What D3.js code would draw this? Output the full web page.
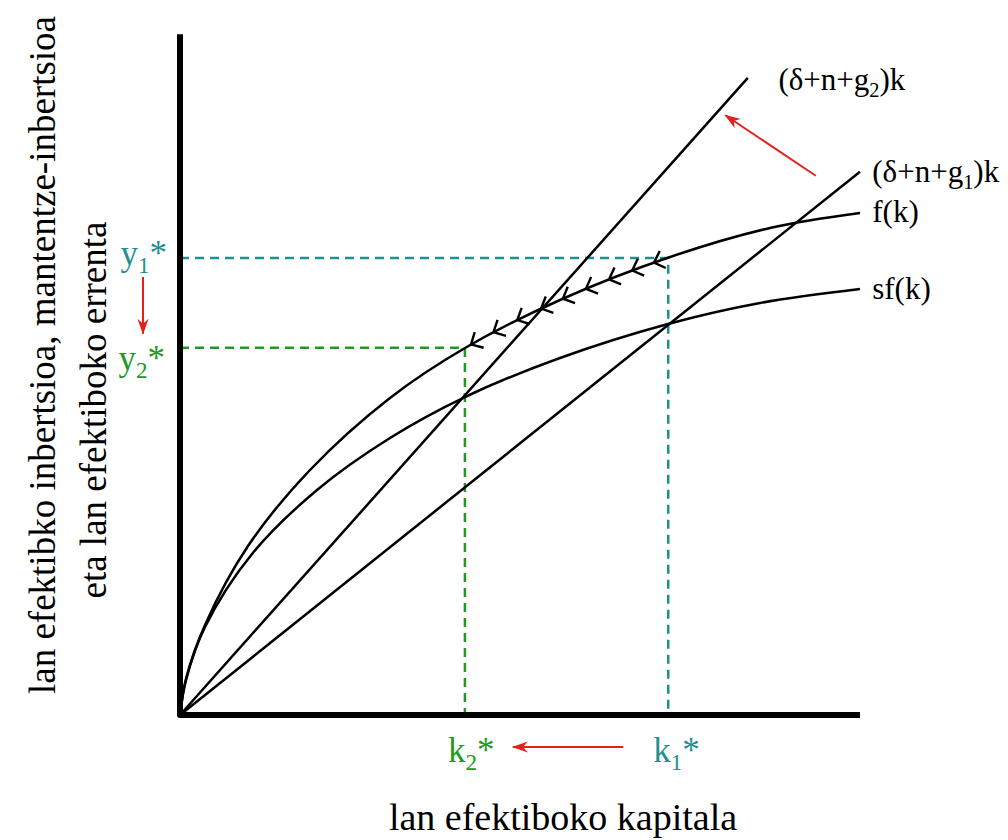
<!DOCTYPE html>
<html>
<head>
<meta charset="utf-8">
<script src="https://cdn.jsdelivr.net/npm/d3@7/dist/d3.min.js"></script>
<style>
  body { margin: 0; background: #fff; }
  text { font-family: "Liberation Serif", "DejaVu Serif", serif; }
</style>
</head>
<body>
<div id="chart"></div>
<script>
// curves, k and y in 0..100 units
const fK  = [0, 0.9, 3.68, 10.0, 19.12, 30.88, 41.91, 55.88, 72.06, 86.76, 100];
const fY  = [0, 5.4, 13.24, 24.85, 36.03, 46.62, 53.97, 61.03, 67.35, 71.62, 73.82];
const sfK = [0, 0.9, 3.68, 10.59, 20.15, 30.88, 41.91, 55.88, 71.76, 85.29, 100];
const sfY = [0, 5.2, 12.94, 23.68, 33.09, 40.74, 46.76, 52.5, 57.5, 60.59, 62.65];

// break-even lines (start and end points)
const lineG2 = [[0, 0], [83.5, 93.7]];
const lineG1 = [[0, 0], [100, 79.9]];

// steady states
const k1 = 71.8, y1 = 67.2;
const k2 = 41.9, y2 = 54.0;

// chevrons on f(k), moving back from k1 to k2
const chevronK = [42.8, 46.1, 49.6, 53.1, 56.3, 59.7, 63.1, 66.5, 69.7];

const curveLabels = [
  {name: "g2", parts: [["(δ+n+g"], ["2", 1], [")k"]], k: 88.0, y: 91.9},
  {name: "g1", parts: [["(δ+n+g"], ["1", 1], [")k"]], k: 101.8, y: 78.4},
  {name: "f",  parts: [["f(k)"]], k: 101.8, y: 72.5},
  {name: "sf", parts: [["sf(k)"]], k: 101.8, y: 61.2}
];

const teal = "#1f9090", green = "#229a22", red = "#e3211c";

const width = 1008, height = 840;
const svg = d3.select("#chart").append("svg")
    .attr("width", width)
    .attr("height", height);

const x = d3.scaleLinear().domain([0, 100]).range([180, 860]);
const y = d3.scaleLinear().domain([0, 100]).range([715, 35]);

svg.append("defs").append("marker")
    .attr("id", "redHead")
    .attr("markerUnits", "userSpaceOnUse")
    .attr("viewBox", "-16 -7 18 14")
    .attr("markerWidth", 18)
    .attr("markerHeight", 14)
    .attr("refX", 0)
    .attr("refY", 0)
    .attr("orient", "auto")
  .append("path")
    .attr("d", "M1,0 L-15,-5.5 L-10,0 L-15,5.5 Z")
    .attr("fill", red);

function addText(g, parts, px, py, opts) {
    let t = g.append("text")
        .attr("x", px)
        .attr("y", py)
        .attr("font-size", opts.size)
        .attr("fill", opts.color || "#000")
        .attr("text-anchor", opts.anchor || "start");
    let down = false;
    parts.forEach(p => {
        let s = t.append("tspan").text(p[0]);
        if (p[1]) {
            s.attr("font-size", opts.size * 0.66).attr("dy", opts.size * 0.22);
            down = true;
        } else if (down) {
            s.attr("dy", -opts.size * 0.22);
            down = false;
        }
    });
    return t;
}

// dashed guides
const dash = "9,6";
svg.append("path")
    .attr("d", d3.line()([[x(0), y(y1)], [x(k1), y(y1)], [x(k1), y(0)]]))
    .attr("fill", "none").attr("stroke", teal).attr("stroke-width", 2.5).attr("stroke-dasharray", dash);
svg.append("path")
    .attr("d", d3.line()([[x(0), y(y2)], [x(k2), y(y2)], [x(k2), y(0)]]))
    .attr("fill", "none").attr("stroke", green).attr("stroke-width", 2.5).attr("stroke-dasharray", dash);

// curves
const curve = d3.line().x(d => x(d[0])).y(d => y(d[1])).curve(d3.curveCatmullRom.alpha(0.5));
const fPath = svg.append("path")
    .attr("d", curve(d3.zip(fK, fY)))
    .attr("fill", "none").attr("stroke", "#000").attr("stroke-width", 2.5);
svg.append("path")
    .attr("d", curve(d3.zip(sfK, sfY)))
    .attr("fill", "none").attr("stroke", "#000").attr("stroke-width", 2.5);

const straight = d3.line().x(d => x(d[0])).y(d => y(d[1]));
[lineG2, lineG1].forEach(l => {
    svg.append("path")
        .attr("d", straight(l))
        .attr("fill", "none").attr("stroke", "#000").attr("stroke-width", 2.5);
});

// chevrons: find point on f path for each k
const node = fPath.node();
const total = node.getTotalLength();
function pointAtX(px) {
    let lo = 0, hi = total;
    for (let i = 0; i < 40; i++) {
        let mid = (lo + hi) / 2;
        if (node.getPointAtLength(mid).x < px) lo = mid; else hi = mid;
    }
    return (lo + hi) / 2;
}
chevronK.forEach(k => {
    let len = pointAtX(x(k));
    let p = node.getPointAtLength(len);
    let q = node.getPointAtLength(Math.min(total, len + 4));
    let a = Math.atan2(q.y - p.y, q.x - p.x);
    let arm = 13, spread = 44 * Math.PI / 180;
    let p1 = [p.x + arm * Math.cos(a - spread), p.y + arm * Math.sin(a - spread)];
    let p2 = [p.x + arm * Math.cos(a + spread), p.y + arm * Math.sin(a + spread)];
    svg.append("path")
        .attr("d", d3.line()([p1, [p.x, p.y], p2]))
        .attr("fill", "none").attr("stroke", "#000").attr("stroke-width", 2.4);
});

// axes
svg.append("path")
    .attr("d", d3.line()([[x(0), y(100.1)], [x(0), y(0)], [x(100), y(0)]]))
    .attr("fill", "none").attr("stroke", "#000").attr("stroke-width", 6)
    .attr("stroke-linejoin", "round");

// red arrows
function arrow(a, b) {
    svg.append("line")
        .attr("x1", a[0]).attr("y1", a[1]).attr("x2", b[0]).attr("y2", b[1])
        .attr("stroke", red).attr("stroke-width", 2)
        .attr("marker-end", "url(#redHead)");
}
arrow([x(93.5), y(79.3)], [x(80.2), y(88.2)]);
arrow([143, y(y1) + 19], [143, y(y2) - 14]);
arrow([x(k1) - 45, 747], [x(k2) + 48, 747]);

// curve labels
curveLabels.forEach(c => addText(svg, c.parts, x(c.k), y(c.y), {size: 31}));

// steady-state labels
addText(svg, [["y"], ["1", 1], ["*"]], 167, 265, {size: 35, color: teal, anchor: "end"});
addText(svg, [["y"], ["2", 1], ["*"]], 165, 370, {size: 35, color: green, anchor: "end"});
addText(svg, [["k"], ["2", 1], ["*"]], x(k2) - 17, 762, {size: 35, color: green});
addText(svg, [["k"], ["1", 1], ["*"]], x(k1) - 15, 762, {size: 35, color: teal});

// axis titles
svg.append("text")
    .attr("x", 563).attr("y", 830)
    .attr("text-anchor", "middle")
    .attr("font-size", 38)
    .text("lan efektiboko kapitala");

svg.append("text")
    .attr("transform", "translate(55,355) rotate(-90)")
    .attr("text-anchor", "middle")
    .attr("font-size", 37)
    .text("lan efektibko inbertsioa, mantentze-inbertsioa");
svg.append("text")
    .attr("transform", "translate(106,410) rotate(-90)")
    .attr("text-anchor", "middle")
    .attr("font-size", 37)
    .text("eta lan efektiboko errenta");
</script>
</body>
</html>
